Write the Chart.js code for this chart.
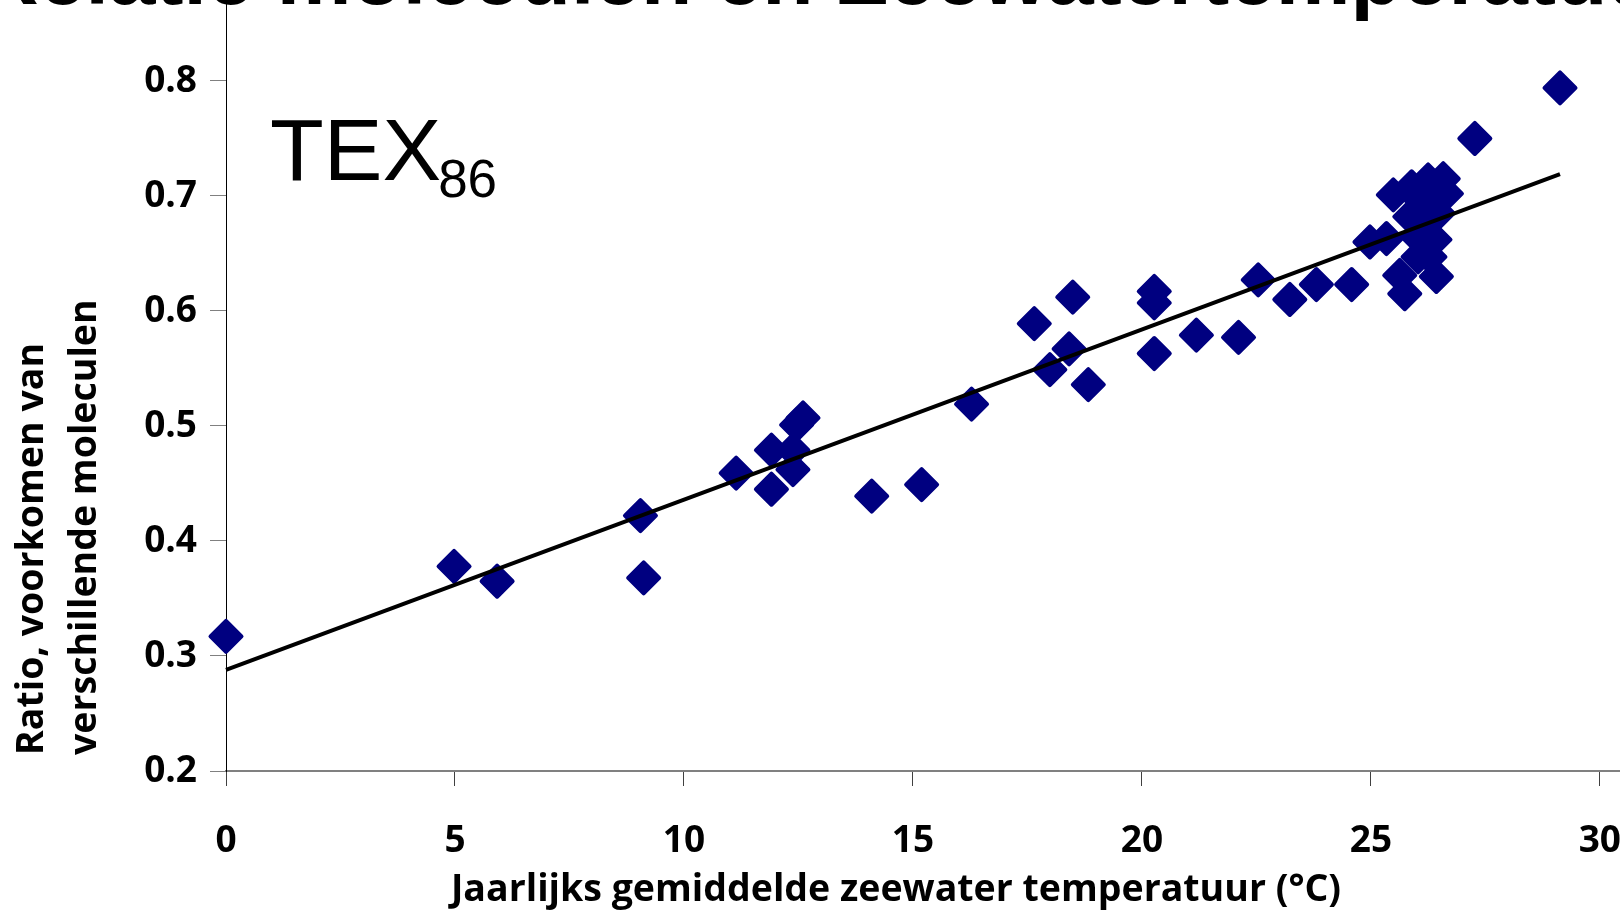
<!DOCTYPE html>
<html lang="nl">
<head>
<meta charset="utf-8">
<title>TEX86 - relatie moleculen en zeewatertemperatuur</title>
<script src="https://cdn.jsdelivr.net/npm/chart.js@4.4.1/dist/chart.umd.min.js"></script>
<style>
  html, body { margin: 0; padding: 0; background: #fff; overflow: hidden; }
  #wrap { position: relative; width: 1620px; height: 912px; }
</style>
</head>
<body>
<div id="wrap"><canvas id="chart"></canvas></div>
<script>
// gemiddelde zeewatertemperatuur (°C) en TEX86-ratio per monster
const tempC = [0, 4.98, 5.92, 9.05, 9.12, 11.14, 11.91, 11.91, 12.38, 12.38,
  12.46, 12.6, 14.1, 15.19, 16.28, 17.65, 18.49, 18.41, 17.99, 18.83,
  20.27, 20.27, 20.27, 21.19, 22.11, 22.54, 23.23, 23.81, 24.58, 24.98,
  25.34, 25.49, 26.25, 26.58, 26.65, 26.47, 26.4, 26.43, 25.63, 25.74,
  25.85, 26.07, 26.0, 26.22, 26.03, 25.89, 26.29, 27.27, 29.13];
const tex86 = [0.317, 0.378, 0.365, 0.422, 0.368, 0.459, 0.479, 0.445, 0.479, 0.462,
  0.501, 0.507, 0.439, 0.449, 0.519, 0.589, 0.612, 0.567, 0.549, 0.536,
  0.617, 0.607, 0.563, 0.579, 0.577, 0.627, 0.61, 0.623, 0.623, 0.66,
  0.663, 0.701, 0.714, 0.715, 0.702, 0.685, 0.662, 0.63, 0.631, 0.615,
  0.682, 0.697, 0.665, 0.676, 0.647, 0.708, 0.647, 0.75, 0.794];

// trendlijn (begin- en eindpunt)
const fitX = [0, 29.13];
const fitY = [0.288, 0.719];

const xTicks = [0, 5, 10, 15, 20, 25, 30];
const yTicks = [0.2, 0.3, 0.4, 0.5, 0.6, 0.7, 0.8];

const chartTitle = 'Relatie moleculen en Zeewatertemperatuur';
const xTitle = 'Jaarlijks gemiddelde zeewater temperatuur (°C)';
const yTitle = ['Ratio, voorkomen van', 'verschillende moleculen'];

const tickFont = { family: '"Open Sans", sans-serif', size: 37, weight: 'bold' };

// titels en het label TEX86 tekenen we zelf, de titel valt deels buiten beeld
const extraText = {
  id: 'extraText',
  beforeDatasetsDraw(chart) {
    // afgeronde hoeken voor de ruitjes
    chart.ctx.lineJoin = 'round';
  },
  afterDraw(chart) {
    const ctx = chart.ctx;
    ctx.save();
    ctx.fillStyle = '#000';
    ctx.textAlign = 'left';
    ctx.textBaseline = 'alphabetic';

    ctx.font = 'bold 84px "Liberation Sans", Arial, sans-serif';
    ctx.fillText(chartTitle, -22, 4);

    ctx.font = '88px "Liberation Sans", Arial, sans-serif';
    ctx.fillText('TEX', 270, 180);
    const w = ctx.measureText('TEX').width;
    ctx.font = '53px "Liberation Sans", Arial, sans-serif';
    ctx.fillText('86', 267 + w, 197);

    ctx.font = 'bold 37.5px "Open Sans", sans-serif';
    ctx.textAlign = 'center';
    ctx.fillText(xTitle, 896, 901);

    ctx.translate(0, 755);
    ctx.rotate(-Math.PI / 2);
    ctx.textAlign = 'left';
    ctx.textBaseline = 'middle';
    ctx.fillText(yTitle[0], 0, 32);
    ctx.fillText(yTitle[1], 0, 85);
    ctx.restore();
  }
};

const points = tempC.map(function (t, i) {
  return { x: t, y: tex86[i] };
});
const fitLine = fitX.map(function (t, i) {
  return { x: t, y: fitY[i] };
});

new Chart(document.getElementById('chart'), {
  type: 'scatter',
  data: {
    datasets: [
      {
        label: 'trend',
        data: fitLine,
        showLine: true,
        borderColor: '#000',
        borderWidth: 4,
        pointRadius: 0,
        fill: false,
        order: 0,
        clip: false
      },
      {
        label: 'TEX86',
        data: points,
        pointStyle: 'rectRot',
        pointRadius: 15.5,
        pointHoverRadius: 15.5,
        backgroundColor: '#000080',
        borderColor: '#000080',
        borderWidth: 4,
        order: 1,
        clip: false
      }
    ]
  },
  options: {
    responsive: true,
    maintainAspectRatio: false,
    animation: false,
    layout: { padding: 0, autoPadding: false },
    plugins: {
      legend: { display: false },
      tooltip: { enabled: false },
      title: { display: false }
    },
    scales: {
      x: {
        type: 'linear',
        min: 0,
        max: 30.44,
        afterBuildTicks: function (scale) {
          scale.ticks = xTicks.map(function (v) { return { value: v }; });
        },
        afterFit: function (scale) {
          scale.height = 141;
          scale.paddingLeft = 0;
          scale.paddingRight = 0;
        },
        grid: { drawOnChartArea: false, tickLength: 15, color: '#404040', lineWidth: 1 },
        border: { color: '#808080', width: 2 },
        ticks: { font: tickFont, color: '#000', padding: 33, autoSkip: false, maxRotation: 0 }
      },
      y: {
        type: 'linear',
        min: 0.2,
        max: 0.8704,
        afterBuildTicks: function (scale) {
          scale.ticks = yTicks.map(function (v) { return { value: v }; });
        },
        afterFit: function (scale) {
          scale.width = 226;
          scale.paddingTop = 0;
          scale.paddingBottom = 0;
        },
        grid: { drawOnChartArea: false, tickLength: 16, color: '#808080', lineWidth: 1 },
        border: { color: '#000', width: 1 },
        ticks: { font: tickFont, color: '#000', padding: 13, autoSkip: false }
      }
    }
  },
  plugins: [extraText]
});
</script>
</body>
</html>
